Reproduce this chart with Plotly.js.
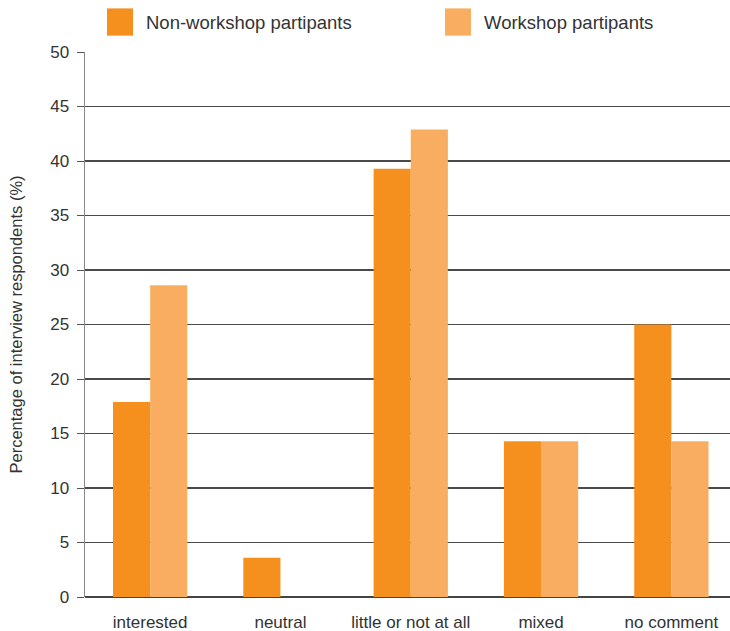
<!DOCTYPE html>
<html>
<head>
<meta charset="utf-8">
<script src="https://cdn.plot.ly/plotly-3.0.1.min.js"></script>
<style>html,body{margin:0;padding:0;background:#fff;}#chart{width:730px;height:631px;}</style>
</head>
<body>
<div id="chart"></div>
<script>
const categories = ["interested", "neutral", "little or not at all", "mixed", "no comment"];
const seriesNames = ["Non-workshop partipants", "Workshop partipants"];
const nonWorkshop = [17.9, 3.6, 39.3, 14.3, 25.0];
const workshop = [28.6, 0, 42.9, 14.3, 14.3];
const yTicks = [0, 5, 10, 15, 20, 25, 30, 35, 40, 45, 50];
const colors = ["#F5901F", "#F8AD61"];

const FONT = "Liberation Sans, Arial, sans-serif";

const traces = [
  {type: "bar", name: seriesNames[0], x: categories, y: nonWorkshop, marker: {color: colors[0]}, showlegend: false},
  {type: "bar", name: seriesNames[1], x: categories, y: workshop, marker: {color: colors[1]}, showlegend: false}
];

const legendShapes = [
  {type: "rect", xref: "paper", yref: "paper", x0: 0.0341, x1: 0.0744, y0: 1.030, y1: 1.080, fillcolor: colors[0], line: {width: 0}},
  {type: "rect", xref: "paper", yref: "paper", x0: 0.5581, x1: 0.5984, y0: 1.030, y1: 1.080, fillcolor: colors[1], line: {width: 0}}
];
const legendText = [
  {xref: "paper", yref: "paper", x: 0.0915, y: 1.055, xanchor: "left", yanchor: "middle", text: seriesNames[0], showarrow: false, font: {family: FONT, size: 18.5, color: "#333"}},
  {xref: "paper", yref: "paper", x: 0.6156, y: 1.055, xanchor: "left", yanchor: "middle", text: seriesNames[1], showarrow: false, font: {family: FONT, size: 18.5, color: "#333"}}
];

const layout = {
  width: 730, height: 631,
  margin: {l: 85, r: 0, t: 52, b: 34},
  paper_bgcolor: "#fff", plot_bgcolor: "#fff",
  barmode: "group", bargap: 0.43, bargroupgap: 0,
  font: {family: FONT, color: "#333"},
  xaxis: {
    range: [-0.5, 4.45],
    showgrid: false, zeroline: false, showline: false,
    ticks: "", tickfont: {family: FONT, size: 17, color: "#333"},
    ticklabelstandoff: 13
  },
  yaxis: {
    range: [0, 50], tickvals: yTicks, ticktext: yTicks.map(String),
    showgrid: true, gridcolor: "#4a4a4a", gridwidth: 1.2,
    zeroline: true, zerolinecolor: "#444", zerolinewidth: 1.6,
    showline: true, linecolor: "#888", linewidth: 1.5,
    ticks: "outside", ticklen: 7, tickcolor: "#555", tickwidth: 1,
    tickfont: {family: FONT, size: 17, color: "#333"},
    ticklabelstandoff: 4,
    title: {text: "Percentage of interview respondents (%)", font: {family: FONT, size: 16.5, color: "#333"}, standoff: 23}
  },
  shapes: legendShapes,
  annotations: legendText
};

Plotly.newPlot("chart", traces, layout, {displayModeBar: false, staticPlot: true});
</script>
</body>
</html>
